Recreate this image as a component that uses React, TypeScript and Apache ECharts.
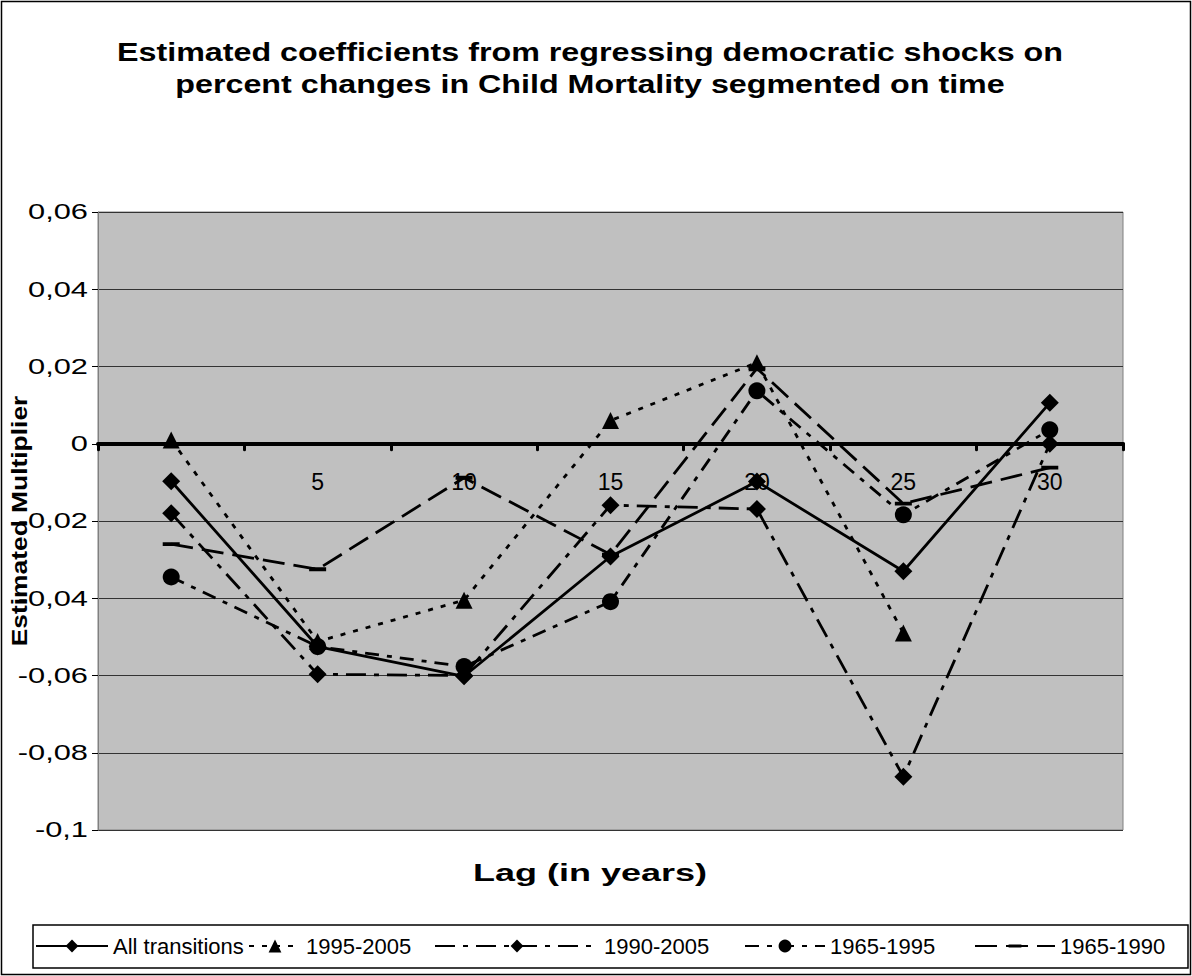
import React, { useEffect, useRef } from 'react';
import * as echarts from 'echarts';

// Lag in years (category axis)
const lags = [0, 5, 10, 15, 20, 25, 30];

// Estimated coefficients per series
const allTransitions = [-0.0097, -0.0525, -0.0602, -0.0292, -0.0098, -0.033, 0.0106];
const s1995to2005 = [0.001, -0.0512, -0.0405, 0.006, 0.021, -0.049, null];
const s1990to2005 = [-0.018, -0.0597, -0.06, -0.0159, -0.0169, -0.0862, 0.0];
const s1965to1995 = [-0.0345, -0.0525, -0.0577, -0.0409, 0.0137, -0.0184, 0.0036];
const s1965to1990 = [-0.026, -0.0325, -0.0088, -0.0287, 0.0195, -0.0155, -0.0062];

const seriesNames = ['All transitions', '1995-2005', '1990-2005', '1965-1995', '1965-1990'];

// Value axis ticks
const yTickValues = [0.06, 0.04, 0.02, 0, -0.02, -0.04, -0.06, -0.08, -0.1];
const yMin = -0.1;
const yMax = 0.06;
const yStep = 0.02;

const FONT = '"Liberation Sans", Arial, Helvetica, sans-serif';

// flat dash marker inside a square box, so it stays flat wherever it is drawn
const DASH_MARK = 'path://M0,0L0.01,0M16,16L16.01,16M0,6.2h16v3.6h-16z';

const fmtComma = (v: number) => {
  const r = Math.round(v * 1000) / 1000;
  return String(r).replace('.', ',');
};

export default function App() {
  const ref = useRef<HTMLDivElement>(null);

  useEffect(() => {
    const chart = echarts.init(ref.current!, null, { renderer: 'svg' });

    const baseLine = (
      name: string,
      data: (number | null)[],
      symbol: string,
      symbolSize: number | number[],
      dash: any
    ) => ({
      name,
      type: 'line',
      data,
      symbol,
      symbolSize,
      showAllSymbol: true,
      connectNulls: false,
      silent: true,
      z: 3,
      itemStyle: { color: '#000', borderWidth: 0 },
      lineStyle: { color: '#000', width: 2.8, type: dash, cap: 'butt' },
      emphasis: { disabled: true },
    });

    // legend placement: icon start x and icon width for each entry
    const legendLefts = [35, 248, 434, 744, 974];
    const legendWidths = [72, 52, 164, 80, 80];

    const staticGraphics: any[] = [
      {
        id: 'frame',
        type: 'rect',
        shape: { x: 1.5, y: 1.5, width: 1189, height: 973 },
        style: { fill: 'none', stroke: '#000', lineWidth: 1.5 },
        silent: true,
      },
      {
        id: 'legendFrame',
        type: 'rect',
        shape: { x: 33, y: 925, width: 1155, height: 43 },
        style: { fill: 'none', stroke: '#000', lineWidth: 1.5 },
        silent: true,
      },
      {
        id: 'title',
        type: 'text',
        x: 590,
        y: 36,
        scaleX: 1.29,
        style: {
          text: 'Estimated coefficients from regressing democratic shocks on\npercent changes in Child Mortality segmented on time',
          align: 'center',
          verticalAlign: 'top',
          font: `bold 25px ${FONT}`,
          lineHeight: 32,
          fill: '#000',
        },
        silent: true,
      },
      {
        id: 'xName',
        type: 'text',
        x: 590,
        y: 872,
        scaleX: 1.5,
        style: {
          text: 'Lag (in years)',
          align: 'center',
          verticalAlign: 'middle',
          font: `bold 24px ${FONT}`,
          fill: '#000',
        },
        silent: true,
      },
      {
        id: 'yName',
        type: 'text',
        x: 19,
        y: 521,
        rotation: Math.PI / 2,
        scaleX: 1.2,
        style: {
          text: 'Estimated Multiplier',
          align: 'center',
          verticalAlign: 'middle',
          font: `bold 22px ${FONT}`,
          fill: '#000',
        },
        silent: true,
      },
    ];

    chart.setOption({
      animation: false,
      backgroundColor: '#fff',
      textStyle: { fontFamily: FONT, color: '#000' },
      grid: {
        left: 98,
        top: 212,
        width: 1025,
        height: 618,
        show: true,
        backgroundColor: '#c0c0c0',
        borderColor: '#808080',
        borderWidth: 1,
        containLabel: false,
      },
      xAxis: {
        type: 'category',
        data: lags.map(String),
        boundaryGap: true,
        // category axis sits on the value axis' zero line
        offset: -618 * (0 - yMin) / (yMax - yMin),
        axisLine: { onZero: false, lineStyle: { color: '#000', width: 4 } },
        axisTick: { show: true, length: 6, lineStyle: { color: '#000', width: 3, cap: 'round' } },
        axisLabel: {
          color: '#000',
          fontSize: 23,
          fontFamily: FONT,
          margin: 27,
          formatter: (v: string) => (v === '0' ? '' : v),
        },
        splitLine: { show: false },
        z: 2,
      },
      yAxis: {
        type: 'value',
        min: yMin,
        max: yMax,
        interval: yStep,
        axisLine: { show: true, lineStyle: { color: '#808080', width: 1 } },
        axisTick: { show: true, length: 6, lineStyle: { color: '#000', width: 1 } },
        axisLabel: { show: false },
        splitLine: { show: true, lineStyle: { color: '#333', width: 1 } },
      },
      legend: seriesNames.map((name, i) => ({
        data: [name],
        left: legendLefts[i],
        top: 935,
        padding: 0,
        itemWidth: legendWidths[i],
        itemHeight: 16,
        selectedMode: false,
        textStyle: { fontSize: 22, color: '#000', fontFamily: FONT },
      })),
      graphic: staticGraphics,
      series: [
        baseLine(seriesNames[0], allTransitions, 'diamond', 18, 'solid'),
        baseLine(seriesNames[1], s1995to2005, 'triangle', 17, [5, 8]),
        baseLine(seriesNames[2], s1990to2005, 'diamond', 18, [20, 8, 5, 8]),
        baseLine(seriesNames[3], s1965to1995, 'circle', 17, [14, 8, 5, 8]),
        baseLine(seriesNames[4], s1965to1990, DASH_MARK, 17, [22, 9]),
      ],
    });

    // value-axis tick labels, placed through the axis scale
    const yLabels = yTickValues.map((v, i) => ({
      id: 'ylab' + i,
      type: 'text',
      x: 88,
      y: chart.convertToPixel({ yAxisIndex: 0 }, v) as number,
      scaleX: 1.4,
      style: {
        text: fmtComma(v),
        align: 'right',
        verticalAlign: 'middle',
        font: `22px ${FONT}`,
        fill: '#000',
      },
      silent: true,
    }));
    chart.setOption({ graphic: [...staticGraphics, ...yLabels] });

    return () => chart.dispose();
  }, []);

  return (
    <div
      ref={ref}
      style={{ position: 'absolute', left: 0, top: 0, width: 1192, height: 976, background: '#fff' }}
    />
  );
}
